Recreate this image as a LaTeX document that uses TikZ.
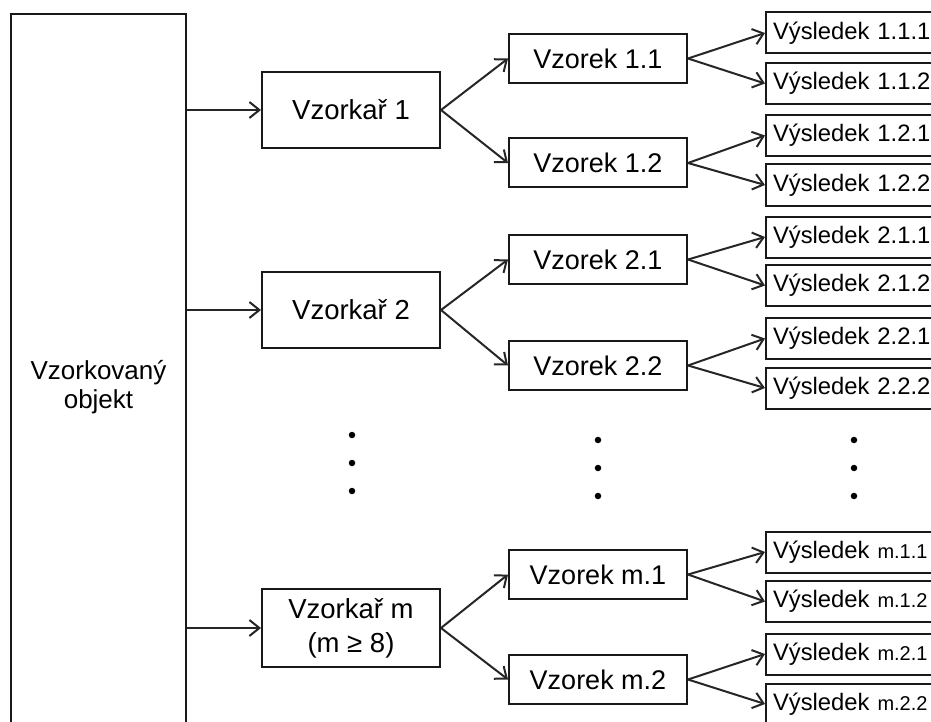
\documentclass[tikz,border=0pt]{standalone}
\usepackage{fontspec}
\setmainfont{Liberation Sans}
\usetikzlibrary{arrows.meta}
\begin{document}
\begin{tikzpicture}[x=1pt,y=-1pt,
  box/.style={draw=black!90, line width=2pt, fill=white, inner sep=0pt,
    align=center, font=\fontsize{27}{34}\selectfont},
  sampler/.style={box, minimum width=178pt, minimum height=76pt,
    font=\fontsize{27.5}{34}\selectfont},
  sample/.style={box, minimum width=178pt, minimum height=49pt},
  result/.style={box, anchor=west, minimum height=41pt, text width=172pt,
    inner xsep=7pt, align=left, font=\fontsize{23.8}{27}\selectfont},
  link/.style={-{Straight Barb[length=10pt,width=16pt,line width=2pt]},
    line width=2pt, draw=black!85},
  dot/.style={circle, fill=black, inner sep=0pt, minimum size=6.5pt}]
\clip (0,0) rectangle (931,722);

% sampled object
\node[box, minimum width=175pt, minimum height=746pt,
  font=\fontsize{26}{29}\selectfont] (obj) at (98.5,387) {Vzorkovaný\\objekt};

% samplers
\node[sampler] (s1) at (351,110) {Vzorkař 1};
\node[sampler] (s2) at (351,310) {Vzorkař 2};
\node[sampler, minimum height=78pt] (sm) at (351,628) {Vzorkař m\\(m ≥ 8)};

% samples
\node[sample] (v11) at (598,58.5) {Vzorek 1.1};
\node[sample] (v12) at (598,163) {Vzorek 1.2};
\node[sample] (v21) at (598,259.5) {Vzorek 2.1};
\node[sample] (v22) at (598,365.5) {Vzorek 2.2};
\node[sample] (vm1) at (598,574.5) {Vzorek m.1};
\node[sample] (vm2) at (598,679.5) {Vzorek m.2};

% results
\node[result] (r111) at (765,33) {Výsledek 1.1.1};
\node[result] (r112) at (765,83.5) {Výsledek 1.1.2};
\node[result] (r121) at (765,135.5) {Výsledek 1.2.1};
\node[result] (r122) at (765,185) {Výsledek 1.2.2};
\node[result] (r211) at (765,237) {Výsledek 2.1.1};
\node[result] (r212) at (765,285.5) {Výsledek 2.1.2};
\node[result] (r221) at (765,338.5) {Výsledek 2.2.1};
\node[result] (r222) at (765,388) {Výsledek 2.2.2};
\node[result] (rm11) at (765,552) {Výsledek {\fontsize{20}{22}\selectfont m.1.1}};
\node[result] (rm12) at (765,601.5) {Výsledek {\fontsize{20}{22}\selectfont m.1.2}};
\node[result] (rm21) at (765,654) {Výsledek {\fontsize{20}{22}\selectfont m.2.1}};
\node[result] (rm22) at (765,704) {Výsledek {\fontsize{20}{22}\selectfont m.2.2}};

% object -> samplers
\foreach \s in {s1,s2,sm}
  \draw[link] (obj.east |- \s.west) -- (\s.west);

% samplers -> samples
\foreach \s/\a/\b in {s1/v11/v12, s2/v21/v22, sm/vm1/vm2} {
  \draw[link] (\s.east) -- (\a.west);
  \draw[link] (\s.east) -- (\b.west);
}

% samples -> results
\foreach \v/\a/\b in {v11/r111/r112, v12/r121/r122, v21/r211/r212,
                      v22/r221/r222, vm1/rm11/rm12, vm2/rm21/rm22} {
  \draw[link] (\v.east) -- (\a.west);
  \draw[link] (\v.east) -- (\b.west);
}

% ellipsis dots
\foreach \y in {435,463,491} \node[dot] (da\y) at (352,\y) {};
\foreach \y in {440,468,496} \node[dot] (db\y) at (598,\y) {};
\foreach \y in {440,468,496} \node[dot] (dc\y) at (854,\y) {};
\end{tikzpicture}
\end{document}
